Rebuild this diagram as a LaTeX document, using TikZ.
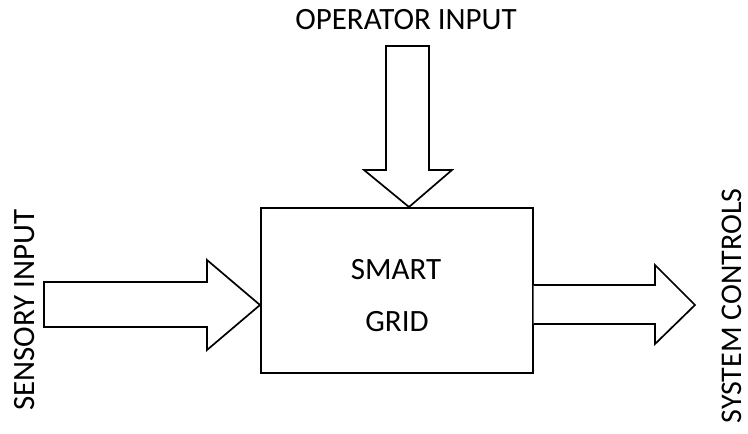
\documentclass[tikz,border=0pt]{standalone}
\usepackage{fontspec}
\setmainfont{Carlito}
\begin{document}
\begin{tikzpicture}[x=1pt,y=-1pt,
  outline/.style={draw=black,line width=1.7pt,line join=miter,fill=white},
  lbl/.style={font=\fontsize{31}{36}\selectfont,inner sep=0pt}]
\useasboundingbox (0,0) rectangle (748,434);
% box
\node[outline,minimum width=272pt,minimum height=165pt,anchor=north west,inner sep=0pt] (grid) at (260,207) {};
\node[lbl] (smart) at (396,270) {SMART};
\node[lbl] (gridtxt) at (397,322) {GRID};
% top arrow
\coordinate (toptip) at (grid.north -| 409,0);
\draw[outline] (386,46) -- (429,46) -- (429,170) -- (452,170) -- (toptip) -- (364,170) -- (386,170) -- cycle;
% left arrow
\coordinate (lefttip) at (grid.west |- 0,305);
\draw[outline] (44,282) -- (207,282) -- (207,260) -- (lefttip) -- (207,350) -- (207,327) -- (44,327) -- cycle;
% right arrow
\coordinate (rightbase) at (grid.east |- 0,285);
\draw[outline] (rightbase) -- (655,285) -- (655,265) -- (695,305) -- (655,344) -- (655,324) -- (grid.east |- 0,324);
% labels
\node[lbl] (op) at (406,20) {OPERATOR INPUT};
\node[lbl,rotate=90] (sens) at (25,310) {SENSORY INPUT};
\node[lbl,rotate=90,font=\fontsize{30}{36}\selectfont] (sys) at (732,306) {SYSTEM CONTROLS};
\end{tikzpicture}
\end{document}
